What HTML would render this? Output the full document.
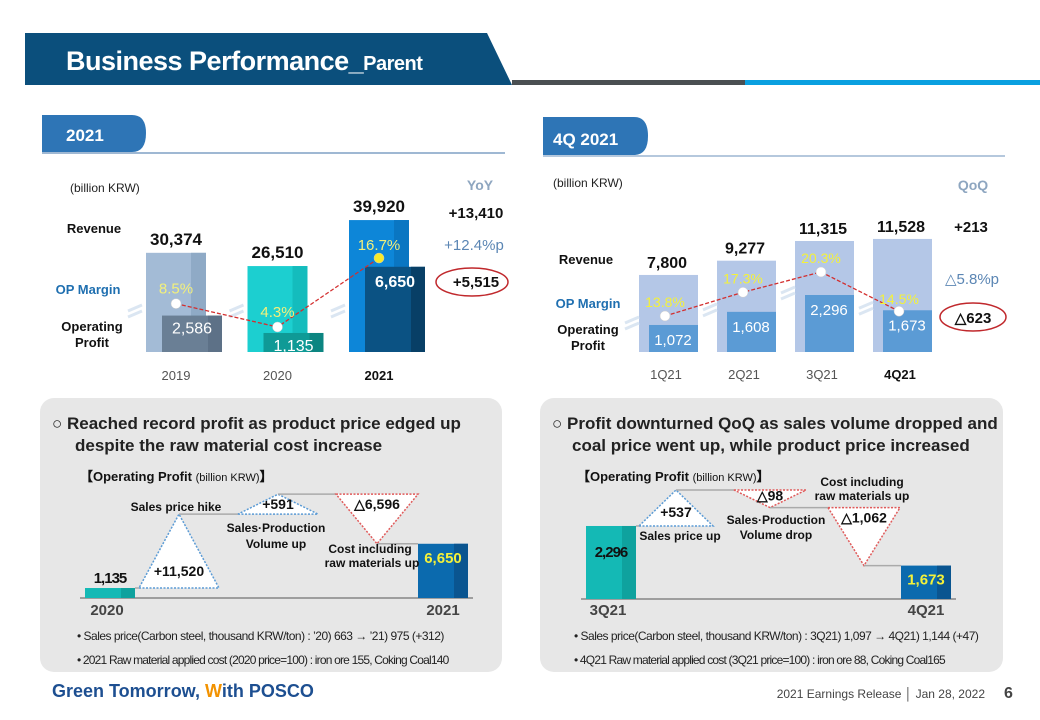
<!DOCTYPE html>
<html><head><meta charset="utf-8"><style>
html,body{margin:0;padding:0;background:#fff}
svg{display:block;font-family:"Liberation Sans",sans-serif}
</style></head><body>
<svg id="s" width="1040" height="720" viewBox="0 0 1040 720" xmlns="http://www.w3.org/2000/svg">
<polygon points="25,33 487,33 512,85 25,85" fill="#0b4f7c"/>
<rect x="512" y="80" width="233" height="5" fill="#4a4f52"/>
<rect x="745" y="80" width="295" height="5" fill="#0aa0e0"/>
<text x="66" y="70" font-size="27" font-weight="bold" fill="#fff" letter-spacing="-0.5">Business Performance_<tspan font-size="20">Parent</tspan></text>
<path d="M42,115 H132 Q146,115 146,133 Q146,152 132,152 H42 Z" fill="#2e75b6"/>
<text x="66" y="141" font-size="17" font-weight="bold" fill="#fff">2021</text>
<rect x="42" y="152" width="463" height="2" fill="#9fb8d3"/>
<path d="M543,117 H634 Q648,117 648,136 Q648,155 634,155 H543 Z" fill="#2e75b6"/>
<text x="553" y="145" font-size="17" font-weight="bold" fill="#fff">4Q 2021</text>
<rect x="543" y="155" width="462" height="2" fill="#b5c8dd"/>
<g id="left"></g>
<g id="right"></g>
<rect x="40" y="398" width="462" height="274" rx="14" fill="#e7e7e7"/>
<rect x="540" y="398" width="463" height="274" rx="14" fill="#e7e7e7"/>
<g font-size="17" font-weight="bold" fill="#222">
<text x="52" y="429">○ Reached record profit as product price edged up</text>
<text x="75" y="451">despite the raw material cost increase</text>
<text x="552" y="429">○ Profit downturned QoQ as sales volume dropped and</text>
<text x="572" y="451">coal price went up, while product price increased</text>
</g>
<g id="wfl"></g>
<g id="wfr"></g>
<text x="52" y="697" font-size="18" font-weight="bold" fill="#1d4f91">Green Tomorrow, <tspan fill="#f29200">W</tspan>ith POSCO</text>
<text x="985" y="698" font-size="12" fill="#444" text-anchor="end">2021 Earnings Release │ Jan 28, 2022</text>
<text x="1004" y="698" font-size="16" font-weight="bold" fill="#444">6</text>
</svg>
<script>
const NS="http://www.w3.org/2000/svg";
function mk(p,tag,at,txt){const e=document.createElementNS(NS,tag);for(const k in at)e.setAttribute(k,at[k]);if(txt!==undefined)e.textContent=txt;p.appendChild(e);return e;}

const yearCats=["2019","2020","2021"];
const yearRevenue=[30374,26510,39920];
const yearOP=[2586,1135,6650];
const yearMargin=[8.5,4.3,16.7];
const qCats=["1Q21","2Q21","3Q21","4Q21"];
const qRevenue=[7800,9277,11315,11528];
const qOP=[1072,1608,2296,1673];
const qMargin=[13.8,17.3,20.3,14.5];
const wfLeftSteps=[11520,591,-6596];
const wfRightSteps=[537,-98,-1062];

function fmt(v){return v.toLocaleString("en-US");}

(function(){
 const g=document.getElementById("left"), base=352;
 const revH=v=>-5+0.00343*v, opH=v=>5.4+0.012*v, my=m=>350.9-5.56*m;
 const bx=i=>146+i*101.5;
 const revC=[["#a3bbd6","#8faac6"],["#1ccfd0","#14bcbd"],["#0d86d8","#0a76c2"]];
 const opC=[["#6a7f95","#5d7187"],["#0f9a96","#0c8581"],["#0b5283","#083f66"]];
 const pts=[];
 mk(g,"text",{x:70,y:192,"font-size":12,fill:"#222"},"(billion KRW)");
 yearCats.forEach((c,i)=>{
  const x=bx(i), h=revH(yearRevenue[i]), oh=opH(yearOP[i]);
  let r=mk(g,"rect",{x:x,y:base-h,width:60,height:h,fill:revC[i][0]});
  
  
  mk(g,"rect",{x:x+45,y:base-h,width:15,height:h,fill:revC[i][1]});
  let o=mk(g,"rect",{x:x+16,y:base-oh,width:60,height:oh,fill:opC[i][0]});
  
  
  mk(g,"rect",{x:x+62,y:base-oh,width:14,height:oh,fill:opC[i][1]});
  let t=mk(g,"text",{x:x+30,y:base-h-8,"font-size":17,"font-weight":"bold","text-anchor":"middle",fill:"#111"},fmt(yearRevenue[i]));
  
  t=mk(g,"text",{x:x+46,y:base-oh+(i==2?20:18),"font-size":16,"font-weight":i==2?"bold":"normal","text-anchor":"middle",fill:"#fff"},fmt(yearOP[i]));
  
  t=mk(g,"text",{x:x+30,y:base+28,"font-size":13,"font-weight":i==2?"bold":"normal","text-anchor":"middle",fill:i==2?"#111":"#555"},c);
  
  pts.push([x+30,my(yearMargin[i])]);
  mk(g,"path",{d:`M${x-18},${base-41} l14,-6 M${x-18},${base-35} l14,-6`,stroke:"#dbe6f2","stroke-width":3});
 });
 let l=mk(g,"polyline",{points:pts.map(p=>p.join(",")).join(" "),fill:"none",stroke:"#d32f2f","stroke-width":1.3,"stroke-dasharray":"4,2"});
 
 pts.forEach((p,i)=>{
  let c=mk(g,"circle",{cx:p[0],cy:p[1],r:5,fill:i==2?"#f7ea2a":"#fff",stroke:"#ccc","stroke-width":0.5});
  
  
  let t=mk(g,"text",{x:p[0],y:p[1]-(i==2?8:10),"font-size":15,"text-anchor":"middle",fill:"#f3f07a"},yearMargin[i]+"%");
  
 });
 mk(g,"text",{x:94,y:233,"font-size":13,"font-weight":"bold","text-anchor":"middle",fill:"#111"},"Revenue");
 mk(g,"text",{x:88,y:294,"font-size":13,"font-weight":"bold","text-anchor":"middle",fill:"#1f6fb0"},"OP Margin");
 mk(g,"text",{x:92,y:331,"font-size":13,"font-weight":"bold","text-anchor":"middle",fill:"#111"},"Operating");
 mk(g,"text",{x:92,y:347,"font-size":13,"font-weight":"bold","text-anchor":"middle",fill:"#111"},"Profit");
 mk(g,"text",{x:480,y:190,"font-size":14,"font-weight":"bold","text-anchor":"middle",fill:"#8ea6c0"},"YoY");
 mk(g,"text",{x:476,y:218,"font-size":15,"font-weight":"bold","text-anchor":"middle",fill:"#111"},"+13,410");
 mk(g,"text",{x:474,y:250,"font-size":15,"text-anchor":"middle",fill:"#5b86b4"},"+12.4%p");
 mk(g,"text",{x:476,y:287,"font-size":15,"font-weight":"bold","text-anchor":"middle",fill:"#111"},"+5,515");
 mk(g,"ellipse",{cx:472,cy:282,rx:36,ry:14,fill:"none",stroke:"#c0282c","stroke-width":1.5});
})();

(function(){
 const g=document.getElementById("right"), base=352;
 const revH=v=>1.7+0.00966*v, opH=v=>0.75+0.0245*v, my=m=>409.4-6.77*m;
 const bx=i=>639+i*78;
 const pts=[];
 mk(g,"text",{x:553,y:187,"font-size":12,fill:"#222"},"(billion KRW)");
 qCats.forEach((c,i)=>{
  const x=bx(i), h=revH(qRevenue[i]), oh=opH(qOP[i]);
  let r=mk(g,"rect",{x:x,y:base-h,width:59,height:h,fill:"#b4c7e7"});
  
  
  let o=mk(g,"rect",{x:x+10,y:base-oh,width:49,height:oh,fill:"#5b9bd5"});
  
  
  let t=mk(g,"text",{x:x+28,y:base-h-7,"font-size":16,"font-weight":"bold","text-anchor":"middle",fill:"#111"},fmt(qRevenue[i]));
  
  t=mk(g,"text",{x:x+34,y:base-oh+20,"font-size":15,"text-anchor":"middle",fill:"#fff"},fmt(qOP[i]));
  
  t=mk(g,"text",{x:x+27,y:base+27,"font-size":13,"font-weight":i==3?"bold":"normal","text-anchor":"middle",fill:i==3?"#111":"#555"},c);
  
  pts.push([x+26,my(qMargin[i])]);
  mk(g,"path",{d:`M${x-14},${base-oh-2} l14,-6 M${x-14},${base-oh+4} l14,-6`,stroke:"#dbe6f2","stroke-width":3});
 });
 let l=mk(g,"polyline",{points:pts.map(p=>p.join(",")).join(" "),fill:"none",stroke:"#d32f2f","stroke-width":1.3,"stroke-dasharray":"4,2"});
 
 pts.forEach((p,i)=>{
  let c=mk(g,"circle",{cx:p[0],cy:p[1],r:5,fill:"#fff",stroke:"#ccc","stroke-width":0.5});
  
  
  let t=mk(g,"text",{x:p[0],y:p[1]-(i==3?7:9),"font-size":14,"text-anchor":"middle",fill:"#f4f13a"},qMargin[i]+"%");
  
 });
 mk(g,"text",{x:586,y:264,"font-size":13,"font-weight":"bold","text-anchor":"middle",fill:"#111"},"Revenue");
 mk(g,"text",{x:588,y:308,"font-size":13,"font-weight":"bold","text-anchor":"middle",fill:"#1f6fb0"},"OP Margin");
 mk(g,"text",{x:588,y:334,"font-size":13,"font-weight":"bold","text-anchor":"middle",fill:"#111"},"Operating");
 mk(g,"text",{x:588,y:350,"font-size":13,"font-weight":"bold","text-anchor":"middle",fill:"#111"},"Profit");
 mk(g,"text",{x:973,y:190,"font-size":14,"font-weight":"bold","text-anchor":"middle",fill:"#8ea6c0"},"QoQ");
 mk(g,"text",{x:971,y:232,"font-size":15,"font-weight":"bold","text-anchor":"middle",fill:"#111"},"+213");
 mk(g,"text",{x:972,y:284,"font-size":15,"text-anchor":"middle",fill:"#5b86b4"},"△5.8%p");
 mk(g,"text",{x:973,y:323,"font-size":15,"font-weight":"bold","text-anchor":"middle",fill:"#111"},"△623");
 mk(g,"ellipse",{cx:973,cy:317,rx:33,ry:14,fill:"none",stroke:"#c0282c","stroke-width":1.5});
})();

// stylised waterfall: startH = pixel height of start bar, stepH = pixel height for a step magnitude
function waterfall(id,x0,base,start,end,steps,startH,stepH,colsX,labels,cats,barX,notes,lblY){
 const g=document.getElementById(id);
 const h=mk(g,"text",{x:x0,y:481,"font-size":13,"font-weight":"bold",fill:"#111"},"");
 h.innerHTML='【Operating Profit <tspan font-weight="normal" font-size="11">(billion KRW)</tspan>】';
 mk(g,"line",{x1:barX[0]-5,y1:base,x2:barX[1]+55,y2:base,stroke:"#555","stroke-width":1});
 let lvl=base-startH(start);
 let b=mk(g,"rect",{x:barX[0],y:lvl,width:50,height:base-lvl,fill:"#14b9b5"});
 
 
 mk(g,"rect",{x:barX[0]+36,y:lvl,width:14,height:base-lvl,fill:"#0fa29e"});
 let prevX=barX[0]+50;
 steps.forEach((s,i)=>{
  const d=stepH(Math.abs(s)), nl=s>0?lvl-d:lvl+d, cx=colsX[i][0], w=colsX[i][1];
  const top=Math.min(lvl,nl), bot=Math.max(lvl,nl);
  mk(g,"line",{x1:prevX,y1:lvl,x2:s>0?cx-w/2:cx-w/2,y2:lvl,stroke:"#aaa","stroke-width":1.5});
  const pts=s>0?`${cx-w/2},${bot} ${cx+w/2},${bot} ${cx},${top}`:`${cx-w/2},${top} ${cx+w/2},${top} ${cx},${bot}`;
  let t=mk(g,"polygon",{points:pts,fill:"#fff",stroke:s>0?"#5b9bd5":"#e05a5a","stroke-width":1.5,"stroke-dasharray":"2,1.5"});
  
  
  const ty=s>0?bot-Math.min(12,d*0.25):top+Math.min(15,d*0.6);
  let tx=mk(g,"text",{x:cx,y:ty,"font-size":14,"font-weight":"bold","text-anchor":"middle",fill:"#111"},(s>0?"+":"△")+fmt(Math.abs(s)));
  
  lvl=nl; prevX=cx;
 });
 mk(g,"line",{x1:prevX,y1:lvl,x2:barX[1],y2:lvl,stroke:"#aaa","stroke-width":1.5});
 b=mk(g,"rect",{x:barX[1],y:lvl,width:50,height:base-lvl,fill:"#0b6aae"});
 
 
 mk(g,"rect",{x:barX[1]+36,y:lvl,width:14,height:base-lvl,fill:"#0a5590"});
 labels.forEach(l=>mk(g,"text",{x:l[0],y:l[1],"font-size":12,"font-weight":"bold","text-anchor":"middle",fill:"#111"},l[2]));
 mk(g,"text",{x:barX[0]+25,y:lblY,"font-size":15,"font-weight":"bold","text-anchor":"middle",fill:"#111","letter-spacing":"-1"},fmt(start));
 mk(g,"text",{x:barX[1]+25,y:lvl+19,"font-size":15,"font-weight":"bold","text-anchor":"middle",fill:"#f4f13a"},fmt(end));
 mk(g,"text",{x:barX[0]+22,y:615,"font-size":15,"font-weight":"bold","text-anchor":"middle",fill:"#444"},cats[0]);
 mk(g,"text",{x:barX[1]+25,y:615,"font-size":15,"font-weight":"bold","text-anchor":"middle",fill:"#444"},cats[1]);
 notes.forEach((n,i)=>mk(g,"text",{x:x0-3,y:640+i*24,"font-size":12,fill:"#222","letter-spacing":i?"-0.8":"-0.5"},n));
}
waterfall("wfl",80,598,1135,6650,wfLeftSteps,v=>v*0.0088,v=>17+0.00494*v,[[179,80],[278,80],[377,82]],
 [[176,511,"Sales price hike"],[276,532,"Sales·Production"],[276,548,"Volume up"],[370,553,"Cost including"],[372,567,"raw materials up"]],
 ["2020","2021"],[85,418],
 ["• Sales price(Carbon steel, thousand KRW/ton) : ’20) 663 → ’21) 975 (+312)","• 2021 Raw material applied cost (2020 price=100) : iron ore 155, Coking Coal140"],583);
waterfall("wfr",577,599,2296,1673,wfRightSteps,v=>v*0.0318,v=>13.5+0.0419*v,[[676,74],[770,72],[864,72]],
 [[680,540,"Sales price up"],[776,524,"Sales·Production"],[776,539,"Volume drop"],[862,486,"Cost including"],[862,500,"raw materials up"]],
 ["3Q21","4Q21"],[586,901],
 ["• Sales price(Carbon steel, thousand KRW/ton) : 3Q21) 1,097 → 4Q21) 1,144 (+47)","• 4Q21 Raw material applied cost (3Q21 price=100) : iron ore 88, Coking Coal165"],557);
</script>
</body></html>
